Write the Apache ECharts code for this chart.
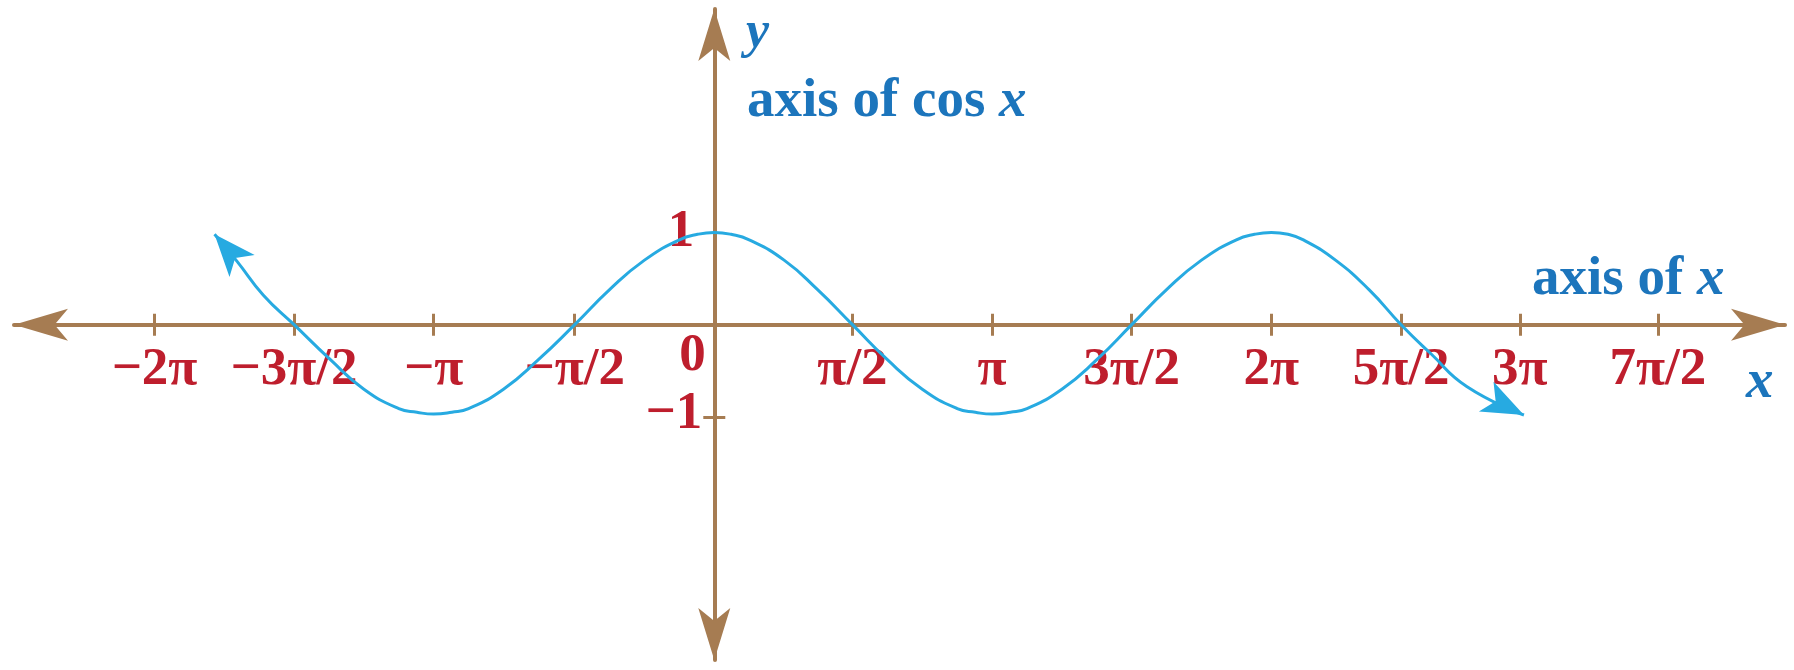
<!DOCTYPE html>
<html>
<head>
<meta charset="utf-8">
<script src="https://cdn.jsdelivr.net/npm/echarts@6/dist/echarts.min.js"></script>
<style>
html,body{margin:0;padding:0;background:#ffffff;}
#chart{width:1794px;height:670px;}
</style>
</head>
<body>
<div id="chart"></div>
<script>
// x is measured in units of π/2, at the positions the ticks appear in the picture
const xTickPositions = [-4.01, -3.01, -2.01, -1.0, 0.99, 1.99, 2.99, 3.99, 4.92, 5.77, 6.76];
const xTickLabels = ['−2π', '−3π/2', '−π', '−π/2', 'π/2', 'π', '3π/2', '2π', '5π/2', '3π', '7π/2'];
const yLabelValues = [1, -1];
const yLabelTexts = ['1', '−1'];
const yTickValues = [-1];

// the cos x curve (x in π/2 units); first and last points are the arrow tips
const curveX = [-3.58, -3.42, -3.23, -3.01, -2.75, -2.51, -2.26, -2.13, -2.01, -1.88, -1.76, -1.51, -1.26, -1.0,
                -0.75, -0.5, -0.25, -0.12, 0, 0.12, 0.25, 0.5, 0.74, 0.99, 1.24, 1.49, 1.74, 1.87, 1.99, 2.12,
                2.24, 2.49, 2.74, 2.99, 3.24, 3.49, 3.74, 3.87, 3.99, 4.11, 4.22, 4.45, 4.69, 4.92, 5.13,
                5.39, 5.80];
const curveY = [0.98, 0.69, 0.32, 0, -0.38, -0.7, -0.91, -0.95, -0.97, -0.95, -0.91, -0.7, -0.38, 0,
                0.38, 0.7, 0.92, 0.98, 1, 0.98, 0.92, 0.7, 0.38, 0, -0.38, -0.7, -0.91, -0.95, -0.97, -0.95,
                -0.91, -0.7, -0.38, 0, 0.38, 0.7, 0.92, 0.98, 1, 0.98, 0.92, 0.7, 0.38, 0, -0.31,
                -0.67, -0.98];

const BROWN = '#A67C52';
const RED = '#BE1E2D';
const BLUE = '#1C75BC';
const CYAN = '#27AAE1';
const SERIF = '"Liberation Serif", "Times New Roman", serif';

// plot frame: axis lines run from arrow tip to arrow tip
const GRID = { left: 14, right: 9, top: 9, bottom: 10 };
const X_MIN = -5.0165, X_MAX = 7.670;
const Y_MIN = -3.637, Y_MAX = 3.424;
const W = 1794, H = 670;
const xPx = v => GRID.left + (v - X_MIN) / (X_MAX - X_MIN) * (W - GRID.left - GRID.right);
const yPx = v => GRID.top + (Y_MAX - v) / (Y_MAX - Y_MIN) * (H - GRID.top - GRID.bottom);
const zeroX = xPx(0), zeroY = yPx(0);

function xLabel(v) {
  let best = 0, bd = Infinity;
  xTickPositions.forEach((p, i) => { const d = Math.abs(p - v); if (d < bd) { bd = d; best = i; } });
  return xTickLabels[best];
}
function yLabel(v) {
  const i = yLabelValues.indexOf(v);
  if (i < 0) return '';
  return v > 0 ? '{one|' + yLabelTexts[i] + '}' : '{neg|' + yLabelTexts[i] + '}';
}

const ARROW = [25, 42];
const curveData = curveX.map((x, i) => {
  const item = { value: [x, curveY[i]] };
  if (i === 0) { item.symbol = 'arrow'; item.symbolSize = ARROW; item.symbolRotate = 41; }
  if (i === curveX.length - 1) { item.symbol = 'arrow'; item.symbolSize = ARROW; item.symbolRotate = -116; }
  return item;
});

const labelFont = { fontFamily: SERIF, fontWeight: 'bold', fontSize: 53, color: RED };
const tickStyle = { color: BROWN, width: 3 };

const chart = echarts.init(document.getElementById('chart'), null, { renderer: 'canvas' });
chart.setOption({
  animation: false,
  backgroundColor: '#ffffff',
  grid: Object.assign({ containLabel: false, outerBoundsMode: 'none' }, GRID),
  title: [
    { text: '{b|axis of cos }{i|x}', left: 747, top: 74, padding: 0,
      textStyle: { rich: {
        b: { fontFamily: SERIF, fontWeight: 'bold', fontSize: 55, lineHeight: 55, color: BLUE },
        i: { fontFamily: SERIF, fontWeight: 'bold', fontStyle: 'italic', fontSize: 55, lineHeight: 55, color: BLUE } } } },
    { text: '{b|axis of }{i|x}', left: 1532, top: 252, padding: 0,
      textStyle: { rich: {
        b: { fontFamily: SERIF, fontWeight: 'bold', fontSize: 55, lineHeight: 55, color: BLUE },
        i: { fontFamily: SERIF, fontWeight: 'bold', fontStyle: 'italic', fontSize: 55, lineHeight: 55, color: BLUE } } } },
    { text: '{i|y}', left: 746, top: 8, padding: 0,
      textStyle: { rich: { i: { fontFamily: SERIF, fontStyle: 'italic', fontSize: 52, lineHeight: 52, color: BLUE } } } },
    { text: '{i|x}', left: 1746, top: 355, padding: 0,
      textStyle: { rich: { i: { fontFamily: SERIF, fontStyle: 'italic', fontSize: 55, lineHeight: 55, color: BLUE } } } }
  ],
  xAxis: [
    { type: 'value', min: X_MIN, max: X_MAX, position: 'bottom', offset: -(H - GRID.bottom - zeroY),
      axisLine: { show: true, onZero: false, symbol: ['arrow', 'arrow'], symbolSize: [24, 54],
                  lineStyle: { color: BROWN, width: 4 } },
      axisTick: { show: true, customValues: xTickPositions, length: 11, lineStyle: tickStyle },
      axisLabel: Object.assign({ show: true, customValues: xTickPositions, formatter: xLabel, margin: 19 }, labelFont),
      splitLine: { show: false } },
    { type: 'value', min: X_MIN, max: X_MAX, position: 'top', offset: -(zeroY - GRID.top),
      axisLine: { show: false, onZero: false },
      axisTick: { show: true, customValues: xTickPositions, length: 11, lineStyle: tickStyle },
      axisLabel: { show: false },
      splitLine: { show: false } }
  ],
  yAxis: [
    { type: 'value', min: Y_MIN, max: Y_MAX, position: 'left', offset: -(zeroX - GRID.left),
      axisLine: { show: true, onZero: false, symbol: ['arrow', 'arrow'], symbolSize: [24, 52],
                  lineStyle: { color: BROWN, width: 4 } },
      axisTick: { show: true, customValues: yTickValues, length: 11, lineStyle: tickStyle },
      axisLabel: { show: true, customValues: yLabelValues, formatter: yLabel, margin: 12,
        rich: {
          one: Object.assign({ padding: [0, 8, 0, 0] }, labelFont),
          neg: Object.assign({ padding: [0, 0, 6, 0] }, labelFont)
        } },
      splitLine: { show: false } },
    { type: 'value', min: Y_MIN, max: Y_MAX, position: 'right', offset: -(W - GRID.right - zeroX),
      axisLine: { show: false, onZero: false },
      axisTick: { show: true, customValues: yTickValues, length: 11, lineStyle: tickStyle },
      axisLabel: { show: false },
      splitLine: { show: false } }
  ],
  series: [
    { name: 'cos x', type: 'line', xAxisIndex: 0, yAxisIndex: 0, smooth: true,
      symbol: 'none', showSymbol: true, data: curveData,
      lineStyle: { color: CYAN, width: 3 }, itemStyle: { color: CYAN, opacity: 1 }, z: 5 },
    { name: 'origin', type: 'scatter', xAxisIndex: 0, yAxisIndex: 0, silent: true,
      data: [[0, 0]], symbolSize: 0, itemStyle: { color: 'transparent', opacity: 1 },
      label: Object.assign({ show: true, formatter: '0', position: 'inside', offset: [-21.7, 32], opacity: 1 }, labelFont) }
  ]
});
</script>
</body>
</html>
